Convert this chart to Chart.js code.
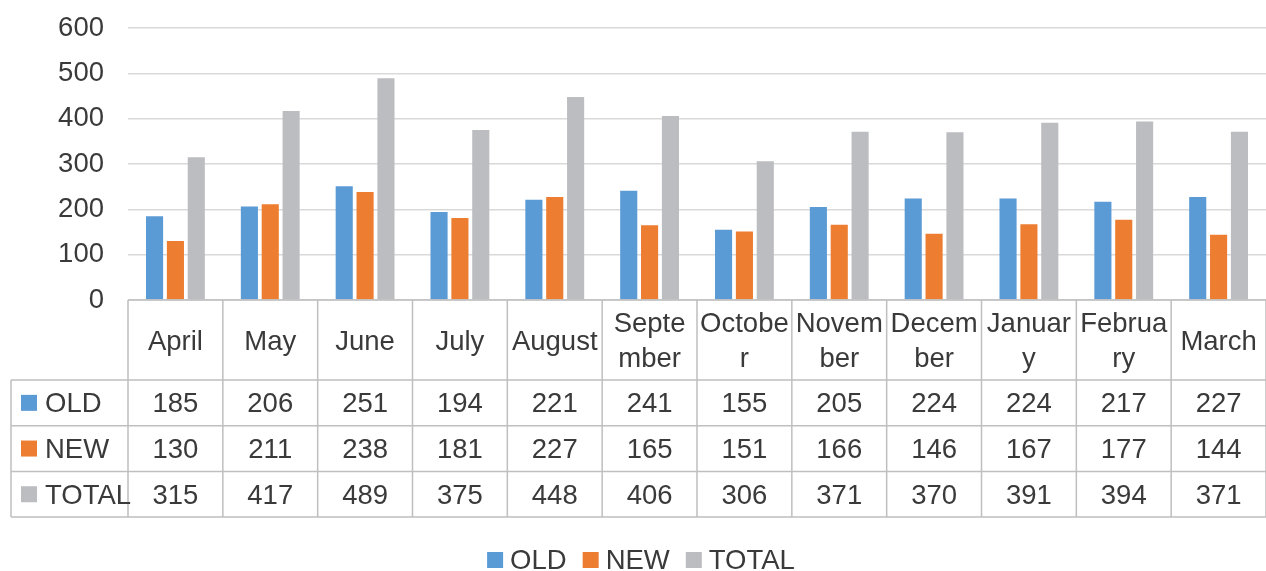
<!DOCTYPE html>
<html>
<head>
<meta charset="utf-8">
<script src="https://cdn.jsdelivr.net/npm/chart.js@4"></script>
<style>
  body { margin: 0; background: #fff; }
  #wrap { width: 1266px; height: 571px; }
</style>
</head>
<body>
<div id="wrap"><canvas id="grafica"></canvas></div>
<script>
// Datos
const meses = ['April', 'May', 'June', 'July', 'August', 'September', 'October',
               'November', 'December', 'January', 'February', 'March'];
const viejos = [185, 206, 251, 194, 221, 241, 155, 205, 224, 224, 217, 227];
const nuevos = [130, 211, 238, 181, 227, 165, 151, 166, 146, 167, 177, 144];
const totales = [315, 417, 489, 375, 448, 406, 306, 371, 370, 391, 394, 371];
const series = ['OLD', 'NEW', 'TOTAL'];
const colores = ['#5b9bd5', '#ed7d31', '#bcbdc1'];
const ticksY = [0, 100, 200, 300, 400, 500, 600];

const fuente = '27.5px "Liberation Sans", Arial, sans-serif';
const colorTexto = '#3a3a3a';
const colorLinea = '#bfbfbf';

// Tabla de datos + leyenda debajo de la grafica
const tablaPlugin = {
    id: 'tablaDatos',
    afterDraw(chart) {
        const ctx = chart.ctx;
        const xs = chart.scales.x;
        const area = chart.chartArea;
        const colW = (area.right - area.left) / meses.length;
        const top = area.bottom;
        const headerBottom = top + 80;
        const rowH = 45.7;
        const tableLeft = 11;
        const tableBottom = headerBottom + rowH * 3;

        ctx.save();
        ctx.strokeStyle = colorLinea;
        ctx.lineWidth = 1.5;
        ctx.beginPath();
        // linea superior
        ctx.moveTo(area.left, top); ctx.lineTo(area.right, top);
        // filas
        for (let r = 0; r <= 3; r++) {
            const y = headerBottom + r * rowH;
            ctx.moveTo(tableLeft, y); ctx.lineTo(area.right, y);
        }
        ctx.moveTo(tableLeft, headerBottom); ctx.lineTo(tableLeft, tableBottom);
        // columnas
        for (let i = 0; i <= meses.length; i++) {
            const x = area.left + i * colW;
            ctx.moveTo(x, top); ctx.lineTo(x, tableBottom);
        }
        ctx.stroke();

        ctx.font = fuente;
        ctx.fillStyle = colorTexto;
        ctx.textAlign = 'center';
        ctx.textBaseline = 'middle';

        // encabezados (partidos por letras si no caben)
        meses.forEach((m, i) => {
            const cx = xs.getPixelForValue(i);
            const lineas = [];
            let actual = '';
            for (const ch of m) {
                if (ctx.measureText(actual + ch).width > colW - 4 && actual) {
                    lineas.push(actual);
                    actual = ch;
                } else {
                    actual += ch;
                }
            }
            lineas.push(actual);
            const lh = 35;
            const y0 = (top + headerBottom) / 2 + 2 - (lineas.length - 1) * lh / 2;
            lineas.forEach((l, k) => ctx.fillText(l, cx, y0 + k * lh));
        });

        // valores
        chart.data.datasets.forEach((ds, r) => {
            const cy = headerBottom + rowH * r + rowH / 2;
            ds.data.forEach((v, i) => {
                ctx.textAlign = 'center';
                ctx.fillText(String(v), xs.getPixelForValue(i), cy + 2);
            });
            ctx.fillStyle = ds.backgroundColor;
            ctx.fillRect(21, cy - 8, 16, 16);
            ctx.fillStyle = colorTexto;
            ctx.textAlign = 'left';
            ctx.fillText(ds.label, 45, cy + 2);
        });

        // leyenda
        const items = chart.data.datasets.map(ds => ({
            label: ds.label, color: ds.backgroundColor,
            w: 16 + 7 + ctx.measureText(ds.label).width
        }));
        const gap = 16;
        const totalW = items.reduce((s, it) => s + it.w, 0) + gap * (items.length - 1);
        let lx = (area.left + area.right) / 2 - totalW / 2 - 56;
        const ly = 560;
        items.forEach(it => {
            ctx.fillStyle = it.color;
            ctx.fillRect(lx, ly - 8, 16, 16);
            ctx.fillStyle = colorTexto;
            ctx.textAlign = 'left';
            ctx.fillText(it.label, lx + 23, ly + 1);
            lx += it.w + gap;
        });
        ctx.restore();
    }
};

const ctx = document.getElementById('grafica');
new Chart(ctx, {
    type: 'bar',
    data: {
        labels: meses,
        datasets: [
            { label: series[0], data: viejos, backgroundColor: colores[0] },
            { label: series[1], data: nuevos, backgroundColor: colores[1] },
            { label: series[2], data: totales, backgroundColor: colores[2] }
        ]
    },
    options: {
        responsive: true,
        maintainAspectRatio: false,
        animation: false,
        layout: { padding: { top: 28, left: 0, right: 0, bottom: 271 } },
        datasets: {
            bar: { categoryPercentage: 0.66, barPercentage: 0.82 }
        },
        plugins: {
            legend: { display: false },
            tooltip: { enabled: false }
        },
        scales: {
            x: { display: false },
            y: {
                min: 0,
                max: 600,
                afterBuildTicks: scale => { scale.ticks = ticksY.map(v => ({ value: v })); },
                afterFit: scale => {
                    scale.width = 128;
                    scale.paddingTop = 0;
                    scale.paddingBottom = 0;
                },
                ticks: {
                    padding: 24,
                    color: colorTexto,
                    font: { family: '"Liberation Sans", Arial, sans-serif', size: 27.5 }
                },
                grid: { color: '#d9d9d9', lineWidth: 1.5, drawTicks: false },
                border: { display: false }
            }
        }
    },
    plugins: [tablaPlugin]
});
</script>
</body>
</html>
